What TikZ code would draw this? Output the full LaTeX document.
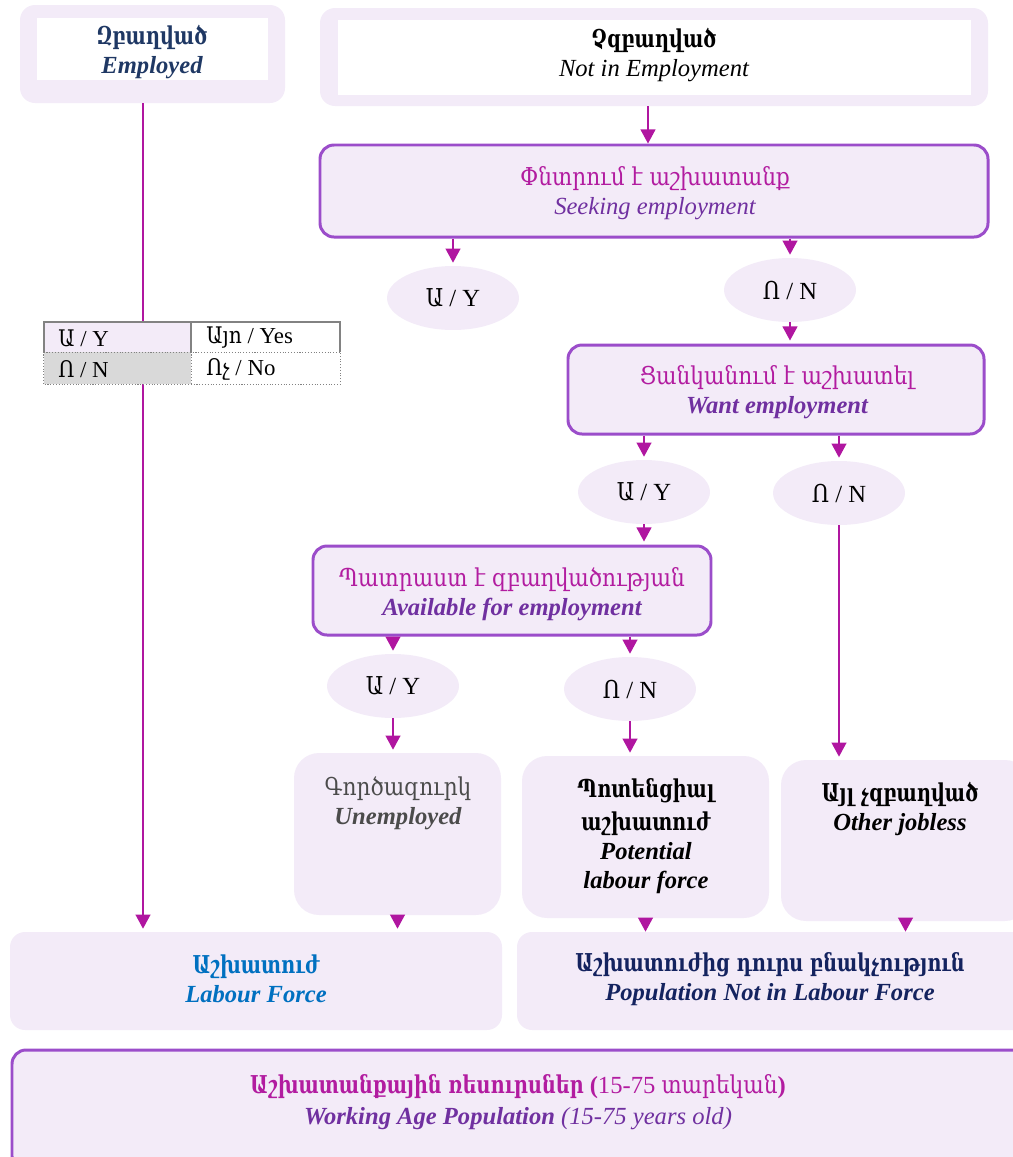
\documentclass[tikz,border=0pt]{standalone}
\usepackage{fontspec}
\setmainfont{Liberation Serif}
\newfontfamily\hy{DejaVu Serif}[FakeStretch=0.88,BoldFeatures={FakeStretch=0.78}]
\usetikzlibrary{arrows.meta,fit,shapes.geometric}
\definecolor{lav}{RGB}{243,235,248}
\definecolor{pbord}{RGB}{155,77,202}
\definecolor{arr}{RGB}{176,22,160}
\definecolor{mag}{RGB}{178,28,160}
\definecolor{purp}{RGB}{112,48,160}
\definecolor{empblue}{RGB}{31,56,100}
\definecolor{lfblue}{RGB}{0,112,192}
\definecolor{navy}{RGB}{20,35,95}
\definecolor{ugray}{RGB}{75,75,75}
\definecolor{lgray}{RGB}{217,217,217}
\definecolor{tgray}{RGB}{130,130,130}
\begin{document}
\begin{tikzpicture}[x=0.02cm,y=-0.02cm,
  font=\fontsize{14}{16.5}\selectfont,
  lavbox/.style={fill=lav,draw=none,inner sep=0pt,rounded corners=0.3cm},
  softbox/.style={fill=lav,draw=none,inner sep=0pt,rounded corners=0.5cm},
  pbox/.style={fill=lav,draw=pbord,line width=1.7pt,inner sep=0pt,rounded corners=0.28cm},
  whitebox/.style={fill=white,draw=none,inner sep=0pt},
  txt/.style={align=center,inner sep=0pt},
  yn/.style={ellipse,fill=lav,minimum width=2.64cm,minimum height=1.28cm,inner sep=0pt},
  con/.style={draw=arr,line width=0.7pt,-{Triangle[width=8.5pt,length=8pt]}},
  tip/.style={shorten >=0.06cm},
  lgtext/.style={anchor=west,inner sep=0pt,font=\fontsize{13}{15}\selectfont},
]
\useasboundingbox (0,0) rectangle (1013,1157);

% column coordinates
\coordinate (cA) at (648,0);
\coordinate (cK) at (143,0);

% Employed
\node[lavbox,fit={(20,5) (285,103)}] (emp) {};
\node[whitebox,fit={(37,18) (268,80)}] (empin) {};
\node[txt] (empt) at (152,52) {{\color{empblue}\bfseries\hy Զբաղված}\\{\color{empblue}\bfseries\itshape Employed}};

% Not in employment
\node[lavbox,fit={(320,8) (988,106)}] (nie) {};
\node[whitebox,fit={(338,20) (971,95)}] (niein) {};
\node[txt] (niet) at (654,55) {{\bfseries\hy Չզբաղված}\\{\itshape Not in Employment}};

% Seeking
\node[pbox,fit={(320,145) (988,237)}] (seek) {};
\node[txt] (seekt) at (655,193) {{\color{mag}\hy Փնտրում է աշխատանք}\\{\color{purp}\itshape Seeking employment}};

\node[yn] (yes1) at (453,298) {{\hy Ա} / Y};
\node[yn] (no1) at (790,290) {{\hy Ո} / N};

% Want
\node[pbox,fit={(568,345) (984,434)}] (want) {};
\node[txt] (wantt) at (777,392) {{\color{mag}\hy Ցանկանում է աշխատել}\\{\color{purp}\bfseries\itshape Want employment}};

\node[yn] (yes2) at (644,492) {{\hy Ա} / Y};
\node[yn] (no2) at (839,493) {{\hy Ո} / N};

% Available
\node[pbox,fit={(313,546) (711,635)}] (avail) {};
\node[txt] (availt) at (512,594) {{\color{mag}\hy Պատրաստ է զբաղվածության}\\{\color{purp}\bfseries\itshape Available for employment}};

\node[yn] (yes3) at (393,686) {{\hy Ա} / Y};
\node[yn] (no3) at (630,689) {{\hy Ո} / N};

% outcome boxes
\node[softbox,fit={(294,753) (501,915)}] (unemp) {};
\node[txt] (unempt) at (398,803) {{\color{ugray}\hy Գործազուրկ}\\{\color{ugray}\bfseries\itshape Unemployed}};

\node[softbox,fit={(522,756) (769,918)}] (pot) {};
\node[txt] (pott) at (646,836) {{\bfseries\hy Պոտենցիալ}\\[2.5pt]{\bfseries\hy աշխատուժ}\\{\bfseries\itshape Potential}\\{\bfseries\itshape labour force}};

\node[softbox,fit={(781,760) (1030,921)}] (other) {};
\node[txt] (othert) at (900,809) {{\bfseries\hy Այլ չզբաղված}\\{\bfseries\itshape Other jobless}};

% bottom boxes
\node[lavbox,fit={(10,932) (502,1030)}] (lf) {};
\node[txt] (lft) at (256,979) {{\color{lfblue}\bfseries\hy Աշխատուժ}\\{\color{lfblue}\bfseries\itshape Labour Force}};
\node[lavbox,fit={(517,932) (1030,1030)}] (pnlf) {};
\node[txt] (pnlft) at (770,979) {{\color{navy}\bfseries\hy Աշխատուժից դուրս բնակչություն}\\{\color{navy}\bfseries\itshape Population Not in Labour Force}};

\node[pbox,fit={(12,1050) (1030,1170)}] (wap) {};
\node[txt] (wapt) at (518,1102) {{\color{mag}{\bfseries\hy Աշխատանքային ռեսուրսներ} {\bfseries(}15-75 {\hy տարեկան}{\bfseries)}}\\[1pt]{\color{purp}{\bfseries\itshape Working Age Population} {\itshape (15-75 years old)}}};

% connectors
\draw[con] (nie.south -| cA) -- (seek.north -| cA);
\draw[con,tip] (seek.south -| yes1) -- (yes1.north);
\draw[con,tip] (seek.south -| no1) -- (no1.north);
\draw[con,tip] (no1.south) -- (no1.south |- want.north);
\draw[con,tip] (want.south -| yes2) -- (yes2.north);
\draw[con,tip] (want.south -| no2) -- (no2.north);
\draw[con,tip] (yes2.south) -- (yes2.south |- avail.north);
\draw[con,tip] (avail.south -| yes3) -- (yes3.north);
\draw[con,tip] (avail.south -| no3) -- (no3.north);
\draw[con,tip] (yes3.south) -- (yes3.south |- unemp.north);
\draw[con,tip] (no3.south) -- (no3.south |- pot.north);
\draw[con,tip] (no2.south) -- (no2.south |- other.north);
\draw[con,tip] (unemp.south) -- (unemp.south |- lf.north);
\draw[con] (pot.south) -- (pot.south |- pnlf.north);
\draw[con] (other.south) -- (other.south |- pnlf.north);
\draw[con,tip] (emp.south -| cK) -- (lf.north -| cK);

% legend table
\node[fill=lav,inner sep=0pt,fit={(44,322) (191,352)}] (l11) {};
\node[fill=white,inner sep=0pt,fit={(191,322) (340,352)}] (l12) {};
\node[fill=lgray,inner sep=0pt,fit={(44,352) (191,384)}] (l21) {};
\node[fill=white,inner sep=0pt,fit={(191,352) (340,384)}] (l22) {};
\draw[tgray,line width=1.1pt] (l11.south west) -- (l11.north west) -- (l12.north east) -- (l12.south east);
\draw[tgray,line width=1.1pt] (l11.north east) -- (l11.south east);
\draw[tgray,line width=0.6pt,densely dotted] (l11.south west) -- (l12.south east);
\draw[tgray,line width=0.6pt,densely dotted] (l21.north west) -- (l21.south west) -- (l22.south east) -- (l22.north east);
\draw[tgray,line width=0.6pt,densely dotted] (l21.north east) -- (l21.south east);
\node[lgtext] (t11) at (58,338) {{\hy Ա} / Y};
\node[lgtext] (t12) at (206,338) {{\hy Այո} / Yes};
\node[lgtext] (t21) at (58,369) {{\hy Ո} / N};
\node[lgtext] (t22) at (206,369) {{\hy Ոչ} / No};
\end{tikzpicture}
\end{document}
